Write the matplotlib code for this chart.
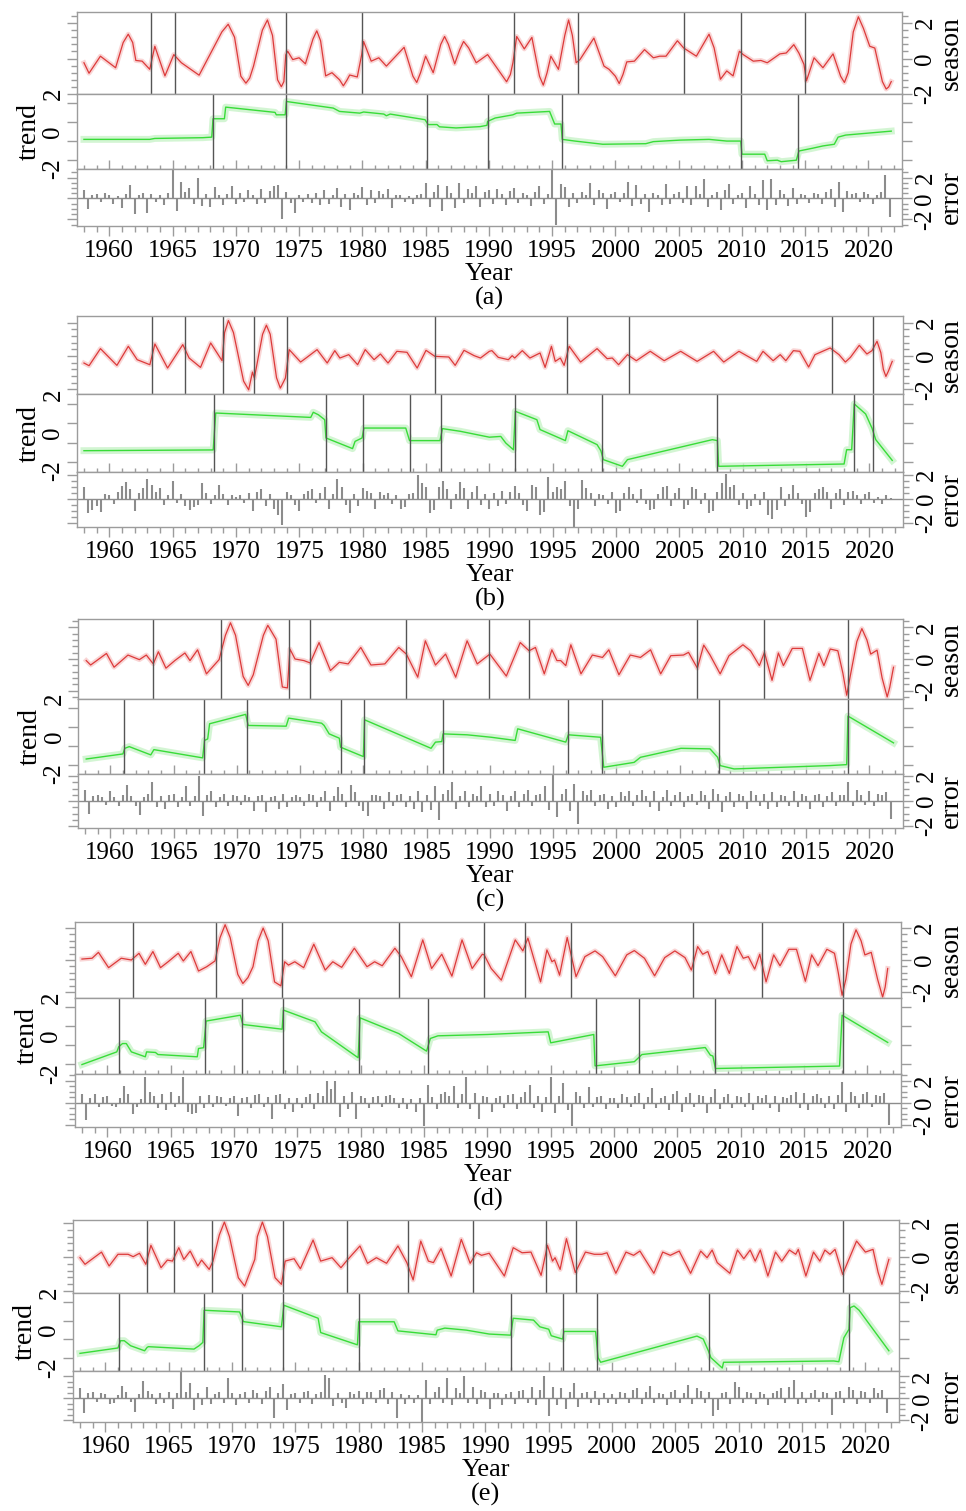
import numpy as np
import matplotlib
matplotlib.use("Agg")
import matplotlib.pyplot as plt
from matplotlib.ticker import FixedLocator, MultipleLocator

plt.rcParams['font.family'] = ['Liberation Serif', 'DejaVu Serif']

# ---------------- values ----------------
# season: (year, value) pairs, trend: years + values, error: one value every 4 months from 1958
# (a)
season_a = [(1958.0, -0.24), (1958.4, -0.83), (1959.3, 0.13), (1960.5, -0.52), (1961.1, 0.9), (1961.5, 1.37),
            (1961.85, 0.9), (1962.1, -0.11), (1962.6, -0.15), (1963.2, -0.61), (1963.6, 0.69), (1964.4, -0.98),
            (1965.1, 0.22), (1965.7, -0.24), (1967.1, -0.94), (1968.1, 0.41), (1968.9, 1.5), (1969.4, 1.93),
            (1969.9, 1.2), (1970.4, -1.0), (1970.8, -1.39), (1971.1, -1.1), (1971.4, -0.43), (1972.1, 1.6),
            (1972.5, 2.17), (1972.9, 1.3), (1973.3, -1.2), (1973.6, -1.59), (1973.8, -1.3), (1973.95, 0.2),
            (1974.1, 0.41), (1974.5, -0.06), (1975.0, 0.04), (1975.5, -0.30), (1976.1, 1.1), (1976.4, 1.56),
            (1976.7, 1.0), (1977.1, -0.98), (1977.6, -0.80), (1978.2, -1.2), (1978.5, -1.54), (1978.8, -1.2),
            (1979.0, -0.93), (1979.6, -1.04), (1979.95, 0.22), (1980.1, 0.96), (1980.7, -0.15), (1981.3, 0.04),
            (1981.9, -0.43), (1983.3, 0.63), (1984.0, -1.0), (1984.3, -1.35), (1984.6, -0.8), (1985.0, 0.13),
            (1985.6, -0.80), (1986.2, 0.8), (1986.5, 1.24), (1986.8, 0.8), (1987.3, -0.30), (1987.7, 0.5),
            (1988.0, 0.96), (1988.4, 0.6), (1989.0, -0.24), (1989.9, 0.22), (1991.1, -1.0), (1991.4, -1.31),
            (1991.7, -0.9), (1991.9, -0.24), (1992.2, 1.24), (1992.8, 0.54), (1993.4, 1.19), (1994.0, -1.0),
            (1994.3, -1.50), (1994.6, -0.8), (1994.9, 0.13), (1995.5, -0.61), (1996.0, 1.3), (1996.3, 2.17),
            (1996.6, 1.3), (1996.9, -0.24), (1997.2, -0.06), (1998.3, 1.15), (1999.1, -0.43), (1999.5, -0.61),
            (2000.0, -1.0), (2000.3, -1.41), (2000.6, -0.9), (2000.9, -0.19), (2001.5, -0.15), (2002.3, 0.50),
            (2003.0, 0.04), (2003.5, 0.13), (2004.0, 0.13), (2004.9, 1.00), (2005.4, 0.59), (2006.4, 0.13),
            (2007.1, 1.0), (2007.4, 1.37), (2007.8, 0.6), (2008.3, -1.17), (2008.8, -0.70), (2009.3, -0.98),
            (2009.8, 0.41), (2010.1, 0.22), (2010.9, -0.15), (2011.5, -0.11), (2012.0, -0.24), (2013.0, 0.26),
            (2013.5, 0.31), (2014.1, 0.78), (2014.5, 0.31), (2014.9, -0.33), (2015.1, -1.26), (2015.7, 0.04),
            (2016.4, -0.52), (2017.2, 0.26), (2017.8, -1.0), (2018.1, -1.35), (2018.4, -0.8), (2018.8, 1.5),
            (2019.2, 2.35), (2019.6, 1.7), (2020.1, 0.69), (2020.5, 0.59), (2021.1, -1.3), (2021.4, -1.72),
            (2021.6, -1.6), (2021.8, -1.30)]
season_a_bp = [1963.3, 1965.2, 1974.0, 1980.0, 1992.0, 1997.05, 2005.4, 2009.9, 2014.95]
trend_a_yr = [1958.0, 1963.2, 1963.6, 1967.4, 1968.1, 1968.2, 1969.1, 1969.2, 1973.1, 1973.2, 1973.9, 1974.0,
              1977.7, 1978.2, 1979.8, 1980.1, 1981.7, 1981.9, 1982.2, 1984.95, 1985.2, 1985.9, 1986.1, 1987.4,
              1989.3, 1989.85, 1989.9, 1990.5, 1991.9, 1992.2, 1994.8, 1995.2, 1995.7, 1995.8, 1996.8, 1999.0,
              2002.4, 2003.0, 2005.1, 2007.4, 2008.8, 2009.9, 2010.0, 2011.8, 2012.0, 2012.8, 2013.1, 2014.3,
              2014.5, 2015.6, 2016.4, 2017.3, 2017.6, 2018.2, 2021.8]
trend_a = [-0.42, -0.42, -0.37, -0.33, -0.30, 0.68, 0.68, 1.30, 1.02, 0.89, 0.89, 1.60,
           1.25, 1.07, 0.98, 1.04, 0.93, 0.84, 0.93, 0.63, 0.37, 0.37, 0.25, 0.19,
           0.26, 0.33, 0.54, 0.72, 0.89, 0.98, 1.07, 0.40, 0.40, -0.42, -0.51, -0.68,
           -0.65, -0.54, -0.46, -0.42, -0.51, -0.51, -1.21, -1.21, -1.56, -1.53, -1.61, -1.53,
           -1.04, -0.89, -0.77, -0.68, -0.30, -0.19, 0.02]
trend_a_bp = [1968.2, 1974.0, 1985.1, 1989.9, 1995.75, 2009.95, 2014.4]
error_a = [0.8, -1.0, 0.3, 0.4, -0.3, 0.5, 0.3, -0.5, 0.2, -0.9, 0.4, 1.3, -1.5, 0.3, 0.5,
           -1.4, 0.4, -0.3, 0.3, -0.6, 0.5, 2.8, -1.2, 1.6, 0.6, 1.0, -0.5, 2.0, -0.7, 0.4,
           -0.8, 1.1, 0.3, -0.6, 0.4, 1.2, -0.5, 0.5, -0.3, 0.8, 0.3, -0.5, 0.9, -0.4, 0.7,
           1.2, 1.3, -2.0, 0.6, -0.4, -1.4, 0.3, -0.3, 0.4, -0.4, 0.5, -0.6, 0.8, -0.5, 0.3,
           1.0, -0.8, 0.4, -1.1, 0.5, 0.3, 1.1, -0.6, 0.8, -0.4, 0.7, 0.4, 0.9, -0.9, 0.3,
           0.3, -0.3, 0.2, -0.5, 0.3, 0.4, 1.5, -0.8, 0.6, 1.3, -1.2, 1.2, 0.5, -0.9, 1.5,
           -0.4, 0.9, 0.5, 1.2, -0.8, 0.6, 0.8, -0.5, 0.9, 0.4, -0.6, 0.7, 1.0, -0.4, 0.5,
           0.3, -0.7, 0.6, 1.2, -0.5, 0.4, 2.7, -2.5, 1.4, 1.1, -0.8, 0.5, -0.4, 0.6, 0.3,
           1.5, -0.6, 0.8, 0.5, -1.0, 0.4, 0.6, -0.3, 0.5, 1.6, -0.7, 1.3, -0.5, 0.4, -1.3,
           0.5, 0.3, -0.6, 1.4, -0.5, 0.4, 0.6, -0.4, 1.2, -0.6, 1.2, 0.4, 1.9, -0.8, 0.3,
           0.6, -1.1, 0.8, 1.4, -0.5, 0.3, 0.5, -0.9, 1.2, 0.4, -0.6, 1.8, -1.1, 1.9, -0.6,
           0.8, 0.4, -0.7, 1.0, -0.5, 0.4, 0.3, -0.4, 0.5, 0.4, -0.5, 0.6, 0.9, -0.8, 1.6,
           -1.3, 0.7, 0.4, 0.5, -0.3, 0.6, 0.4, -0.5, 0.3, 0.6, 2.2, -1.8]

# (b)
season_b = [(1958.0, -0.42), (1958.4, -0.58), (1959.3, 0.44), (1960.6, -0.56), (1961.5, 0.58), (1962.2, -0.22),
            (1963.2, -0.52), (1963.6, 0.72), (1964.6, -0.72), (1965.8, 0.68), (1966.3, -0.12), (1967.2, -0.68),
            (1968.0, 0.78), (1968.9, -0.28), (1969.1, 1.4), (1969.4, 2.12), (1969.8, 1.4), (1970.6, -1.5),
            (1971.0, -2.02), (1971.3, -0.96), (1971.45, -1.32), (1972.1, 1.3), (1972.4, 1.84), (1972.7, 1.3),
            (1973.2, -1.3), (1973.5, -1.92), (1973.9, -1.32), (1974.2, 0.38), (1975.1, -0.36), (1975.6, -0.08),
            (1976.4, 0.38), (1977.2, -0.42), (1977.8, 0.32), (1978.2, -0.12), (1978.9, 0.08), (1979.6, -0.52),
            (1980.2, 0.38), (1980.9, -0.22), (1981.4, 0.12), (1982.0, -0.42), (1982.7, 0.28), (1983.5, 0.22),
            (1984.3, -0.72), (1985.0, 0.34), (1985.7, -0.02), (1986.8, -0.06), (1987.3, -0.56), (1988.0, 0.34),
            (1988.8, 0.02), (1989.3, -0.12), (1990.0, 0.28), (1990.2, 0.32), (1990.7, -0.08), (1991.5, -0.22),
            (1991.8, 0.02), (1992.0, -0.12), (1992.6, 0.32), (1993.2, -0.12), (1994.0, 0.18), (1994.4, -0.68),
            (1994.9, 0.58), (1995.2, -0.32), (1995.6, -0.12), (1995.9, -0.56), (1996.3, 0.58), (1997.2, -0.36),
            (1998.5, 0.44), (1999.3, -0.16), (1999.7, -0.12), (2000.2, -0.52), (2000.9, 0.08), (2001.6, -0.28),
            (2002.7, 0.28), (2003.8, -0.28), (2005.1, 0.28), (2006.4, -0.32), (2007.7, 0.28), (2008.5, -0.36),
            (2009.7, 0.28), (2011.1, -0.32), (2011.6, 0.28), (2012.4, -0.28), (2012.96, 0.08), (2013.4, -0.28),
            (2014.0, 0.32), (2014.5, 0.28), (2015.2, -0.66), (2015.7, 0.08), (2016.9, 0.48), (2017.6, 0.08),
            (2018.1, -0.36), (2018.5, -0.08), (2019.2, 0.64), (2019.8, 0.12), (2020.2, 0.32), (2020.6, 0.88),
            (2020.9, 0.2), (2021.1, -0.8), (2021.3, -1.22), (2021.5, -0.9), (2021.8, -0.32)]
season_b_bp = [1963.35, 1965.95, 1969.0, 1971.45, 1974.05, 1985.7, 1996.1, 2001.0, 2017.05, 2020.25]
trend_b_yr = [1958.0, 1968.2, 1968.4, 1975.9, 1976.1, 1976.5, 1977.0, 1977.1, 1979.2, 1979.4, 1979.95, 1980.1,
              1983.4, 1983.7, 1986.1, 1986.3, 1987.7, 1990.0, 1990.9, 1991.3, 1991.9, 1992.05, 1993.75, 1994.0,
              1996.0, 1996.2, 1998.5, 1998.8, 1999.0, 2000.5, 2000.9, 2007.6, 2008.0, 2008.1, 2018.0, 2018.2,
              2018.6, 2018.8, 2019.7, 2020.2, 2020.5, 2021.8]
trend_b = [-0.93, -0.89, 1.05, 0.82, 1.09, 0.96, 0.70, -0.26, -0.82, -0.44, -0.26, 0.26,
           0.26, -0.40, -0.40, 0.23, 0.09, -0.22, -0.18, -0.53, -0.88, 1.14, 0.70, 0.18,
           -0.40, 0.12, -0.61, -0.93, -1.40, -1.75, -1.40, -0.35, -0.40, -1.75, -1.63, -0.88,
           -0.88, 1.53, 1.00, 0.26, -0.35, -1.44]
trend_b_bp = [1968.3, 1977.1, 1980.0, 1983.7, 1986.2, 1992.0, 1998.9, 2008.0, 2018.75, 2020.25]
error_b = [1.0, -1.2, -0.9, -0.6, -1.1, 0.4, 0.3, -0.4, 0.6, 1.1, 1.4, 0.8, -1.0, 0.5, 0.9,
           1.7, 1.2, 0.6, 0.9, -0.5, 0.3, 1.5, -0.3, 0.4, -0.6, -0.9, -0.7, -0.5, 1.3, 0.5,
           -0.4, 0.3, 1.2, 0.4, -0.5, 0.3, 0.2, 0.3, -0.3, 0.5, -1.0, 0.6, 0.8, -0.6, 0.4,
           -0.8, -1.3, -2.2, 0.6, 0.3, -0.5, -1.0, 0.4, 0.7, 0.8, -0.3, 0.5, 1.0, -0.8, 0.4,
           1.7, 1.0, -0.5, -1.2, 0.4, -0.6, 0.9, 0.7, 0.5, -0.8, 0.6, 0.3, 0.5, -0.4, 0.3,
           -0.8, -0.7, 0.4, 0.5, 2.0, 1.3, 1.0, -1.2, -0.9, 1.0, 1.5, 0.8, -0.8, 0.4, 1.4,
           0.9, -0.8, 0.6, 1.1, -0.5, 0.4, -0.8, 0.5, -0.6, 0.7, -0.4, 0.6, 1.1, 0.5, -0.5,
           -1.0, 1.2, 1.0, -1.3, -1.1, 1.8, 0.6, 1.0, 0.8, 1.5, -0.6, -2.3, -0.8, 1.6, 0.9,
           0.5, -0.6, 0.4, 0.3, -0.4, 0.6, -1.2, -1.0, 0.5, 1.0, 0.4, -0.3, 0.8, -0.4, -0.9,
           -0.8, 0.4, 1.0, 1.1, -0.6, 0.5, 0.9, -0.8, -0.5, 1.0, 0.8, -0.4, 0.5, -1.2, -1.0,
           0.6, 1.3, 2.1, 1.0, 1.2, -0.5, 0.5, -0.8, -0.6, 0.4, -0.5, 0.6, -1.3, -1.7, -0.9,
           1.0, -0.6, 0.4, 1.2, 0.5, -0.4, -1.5, -1.1, 0.5, 0.8, 1.0, 0.6, -0.8, 0.5, 0.8,
           -0.5, 0.6, 0.7, 0.3, -0.4, 0.4, 0.6, -0.3, 0.2, -0.4, 0.3, 0.1]

# (c)
season_c = [(1958.1, -0.10), (1958.45, -0.38), (1959.7, 0.35), (1960.3, -0.52), (1961.4, 0.25), (1962.3, -0.04),
            (1962.85, 0.25), (1963.4, -0.31), (1963.8, 0.46), (1964.4, -0.58), (1965.1, -0.10), (1965.9, 0.38),
            (1966.3, -0.10), (1966.9, 0.58), (1967.6, -0.94), (1968.6, -0.04), (1969.1, 1.5), (1969.5, 2.29),
            (1969.9, 1.5), (1970.5, -1.1), (1970.9, -1.67), (1971.3, -1.0), (1972.1, 1.5), (1972.45, 2.13),
            (1973.1, 1.25), (1973.6, -1.77), (1974.0, -1.83), (1974.2, 0.63), (1974.6, 0.0), (1975.3, -0.10),
            (1975.8, -0.25), (1976.5, 1.04), (1977.4, -0.73), (1978.1, -0.21), (1978.8, -0.31), (1979.8, 0.73),
            (1980.6, -0.38), (1981.7, -0.31), (1982.8, 0.73), (1983.4, 0.31), (1984.3, -1.15), (1984.9, 1.15),
            (1985.7, -0.38), (1986.5, 0.31), (1987.3, -1.15), (1988.2, 1.15), (1989.0, -0.31), (1990.0, 0.31),
            (1991.3, -1.08), (1992.4, 1.04), (1993.1, 0.52), (1993.6, 0.73), (1994.3, -0.94), (1994.9, 0.58),
            (1995.3, -0.10), (1995.6, -0.10), (1996.0, -0.42), (1996.4, 0.90), (1997.2, -0.94), (1998.1, 0.25),
            (1998.9, 0.10), (1999.4, 0.58), (2000.2, -1.00), (2001.1, 0.25), (2001.9, 0.10), (2002.7, 0.58),
            (2003.5, -0.94), (2004.3, 0.21), (2005.3, 0.25), (2005.7, 0.42), (2006.4, -0.58), (2006.9, 0.88),
            (2007.4, 0.25), (2008.2, -0.94), (2008.9, 0.21), (2010.0, 0.90), (2010.6, 0.52), (2011.3, -0.42),
            (2011.7, 0.42), (2012.3, -1.35), (2012.8, 0.38), (2013.2, -0.42), (2013.9, 0.67), (2014.7, 0.67),
            (2015.3, -1.35), (2016.0, 0.35), (2016.4, -0.42), (2016.9, 0.63), (2017.5, 0.52), (2017.9, -0.9),
            (2018.2, -2.29), (2018.5, -1.0), (2019.0, 1.1), (2019.4, 1.92), (2019.8, 1.2), (2020.1, 0.31),
            (2020.6, 0.56), (2021.0, -1.2), (2021.4, -2.40), (2021.6, -1.8), (2021.9, -0.52)]
season_c_bp = [1963.4, 1968.75, 1974.1, 1975.8, 1983.4, 1989.95, 1993.1, 2006.4, 2011.7, 2018.3]
trend_c_yr = [1958.1, 1961.0, 1961.15, 1961.5, 1963.2, 1963.45, 1967.3, 1967.45, 1967.7, 1967.85, 1970.7, 1970.9,
              1973.9, 1974.1, 1976.7, 1976.9, 1977.3, 1978.1, 1978.2, 1980.0, 1980.1, 1985.35, 1985.7, 1986.2,
              1986.3, 1988.2, 1990.1, 1992.0, 1992.2, 1996.0, 1996.2, 1998.75, 1999.0, 2001.4, 2001.9, 2005.1,
              2007.4, 2008.0, 2008.2, 2009.3, 2016.9, 2018.2, 2018.3, 2021.9]
trend_c = [-1.20, -0.93, -0.63, -0.54, -0.98, -0.70, -1.14, -0.21, -0.13, 0.68, 1.18, 0.59,
           0.55, 0.98, 0.71, 0.59, 0.14, -0.09, -0.57, -1.07, 0.89, -0.63, -0.30, -0.27,
           0.14, 0.09, -0.04, -0.21, 0.41, -0.30, 0.09, -0.04, -1.64, -1.38, -1.11, -0.63,
           -0.66, -1.11, -1.55, -1.73, -1.55, -1.50, 1.09, -0.34]
trend_c_bp = [1961.05, 1967.4, 1970.8, 1978.2, 1980.05, 1986.3, 1996.15, 1998.9, 2008.1, 2018.3]
error_c = [0.9, -1.0, 0.4, 0.5, 0.3, -0.3, 0.8, 0.3, -0.4, 0.5, 1.3, 0.4, -0.4, -1.1, 0.3,
           0.6, 1.5, -0.5, 0.4, -0.6, 0.5, 0.6, -0.5, 0.3, 1.2, -0.4, 0.4, 2.0, -1.2, 0.5,
           0.8, -0.5, 0.3, 0.6, -0.4, 0.5, 0.4, -0.3, 0.5, 0.3, -0.8, 0.4, 0.5, -0.9, 0.3,
           0.4, -0.6, 0.6, -0.5, 0.3, 0.5, 0.3, -0.4, 0.6, 0.5, -0.5, 0.3, 0.8, -0.8, 0.4,
           1.1, 0.6, -0.5, 1.3, 0.7, -0.4, -0.8, -1.2, 0.5, 0.5, 0.4, -0.6, 0.7, -0.4, 0.5,
           0.6, -0.5, 0.4, -0.6, 0.8, -0.9, 0.5, -0.7, 1.2, -1.5, 0.6, 0.9, 1.5, -0.6, 0.4,
           0.8, -0.5, 0.6, 0.4, 1.2, -0.5, 0.6, -0.4, 0.8, 0.5, -0.8, 0.4, 0.8, -0.5, 0.6,
           0.9, -0.4, 0.5, 0.6, 1.2, -0.7, 2.1, -1.3, 0.6, 1.0, -0.8, 1.4, -1.8, 0.8, 0.5,
           0.9, -0.4, 0.5, 0.6, -0.6, 0.4, -0.5, 0.7, 0.4, 0.8, -0.4, 0.5, 0.9, 0.4, -0.5,
           0.8, -0.8, 0.3, 0.9, -0.4, 0.5, 0.7, -0.5, 0.4, 0.6, -0.3, 0.8, 0.5, -0.6, 1.0,
           0.6, -0.9, 0.4, 0.7, -0.5, 0.6, 0.4, -0.6, 0.8, 0.5, -0.4, 0.6, -0.6, 0.7, -0.5,
           0.5, 0.4, -0.4, 0.8, -0.5, 0.6, 0.4, -0.6, 0.5, 0.6, -0.5, 0.4, 0.7, -0.4, 0.5,
           0.5, 1.5, -0.4, 0.9, 0.5, -0.3, 0.8, -0.4, 0.6, 0.5, 0.7, -1.4]

# (d)
season_d = [(1958.0, 0.06), (1958.8, 0.11), (1959.3, 0.48), (1960.1, -0.48), (1961.1, 0.11), (1961.9, 0.0),
            (1962.5, 0.42), (1963.0, -0.27), (1963.6, 0.53), (1964.2, -0.48), (1964.8, -0.11), (1965.6, 0.42),
            (1966.0, -0.06), (1966.6, 0.53), (1967.2, -0.69), (1967.85, -0.42), (1968.5, -0.06), (1968.9, 1.4),
            (1969.3, 2.21), (1969.7, 1.4), (1970.3, -0.9), (1970.7, -1.47), (1971.1, -1.1), (1971.5, -0.42),
            (1971.9, 1.2), (1972.3, 2.00), (1972.7, 1.2), (1973.2, -1.37), (1973.7, -1.62), (1974.0, -0.11),
            (1974.3, -0.32), (1974.8, -0.11), (1975.5, -0.48), (1976.3, 0.99), (1977.2, -0.63), (1977.8, -0.11),
            (1978.5, -0.46), (1979.5, 0.74), (1980.5, -0.42), (1981.1, -0.11), (1981.7, -0.36), (1982.7, 0.74),
            (1983.2, 0.21), (1984.0, -1.05), (1984.9, 1.26), (1985.6, -0.53), (1986.4, 0.36), (1987.2, -1.01),
            (1988.0, 1.26), (1988.8, -0.53), (1989.6, 0.36), (1989.75, 0.32), (1990.3, -0.53), (1991.1, -1.26),
            (1992.2, 1.26), (1992.8, 0.57), (1993.2, 1.37), (1994.2, -1.37), (1994.7, 0.63), (1995.1, -0.11),
            (1995.3, 0.0), (1995.7, -0.95), (1996.3, 1.41), (1997.0, -1.05), (1997.7, 0.21), (1998.5, 0.57),
            (1999.1, 0.21), (2000.1, -0.99), (2001.0, 0.32), (2001.6, 0.59), (2002.4, 0.11), (2003.2, -0.99),
            (2004.0, 0.15), (2004.8, 0.57), (2005.6, 0.15), (2006.1, -0.63), (2006.6, 0.84), (2007.0, 0.36),
            (2007.4, 0.53), (2008.0, -0.84), (2008.5, 0.32), (2009.1, -0.84), (2009.7, 0.84), (2010.2, 0.11),
            (2010.6, 0.21), (2011.1, -0.57), (2011.5, 0.36), (2012.0, -1.37), (2012.6, 0.32), (2013.1, -0.36),
            (2013.8, 0.67), (2014.4, 0.67), (2015.1, -1.33), (2015.6, 0.32), (2016.1, -0.36), (2016.8, 0.67),
            (2017.4, 0.42), (2017.7, -0.8), (2018.0, -2.21), (2018.3, -1.2), (2018.7, 1.0), (2019.1, 1.89),
            (2019.5, 1.2), (2019.8, 0.32), (2020.3, 0.48), (2020.8, -1.2), (2021.2, -2.32), (2021.4, -1.7),
            (2021.6, -0.53)]
season_d_bp = [1962.05, 1968.55, 1973.8, 1983.05, 1989.72, 1993.0, 1996.6, 2006.2, 2011.7, 2018.1]
trend_d_yr = [1958.0, 1960.75, 1960.9, 1961.2, 1961.5, 1961.9, 1963.0, 1963.1, 1963.8, 1964.0, 1967.1, 1967.2,
              1967.6, 1967.8, 1970.5, 1970.7, 1973.8, 1973.9, 1976.4, 1976.9, 1979.8, 1979.95, 1983.0, 1985.2,
              1985.5, 1986.1, 1990.0, 1994.8, 1995.0, 1998.4, 1998.5, 2001.6, 2002.2, 2007.2, 2007.6, 2007.8,
              2008.0, 2017.8, 2018.0, 2021.6]
trend_d = [-1.52, -0.85, -0.58, -0.41, -0.41, -0.85, -1.11, -0.85, -0.88, -0.99, -1.11, -0.67,
           -0.63, 0.78, 1.09, 0.60, 0.35, 1.36, 0.74, 0.21, -1.16, 0.95, 0.12, -0.81,
           -0.14, 0.0, 0.07, 0.21, -0.37, 0.07, -1.59, -1.37, -0.99, -0.62, -1.02, -1.07,
           -1.73, -1.60, 1.09, -0.35]
trend_d_bp = [1960.9, 1967.75, 1970.6, 1973.85, 1979.85, 1985.35, 1998.6, 2002.0, 2007.95, 2018.05]
error_d = [0.8, -1.6, 0.4, 0.8, -0.4, 0.5, 0.6, -0.3, -0.4, 0.4, 1.5, 0.8, -1.0, -0.4, 0.3,
           2.3, 1.0, 0.6, -0.5, 0.8, -0.7, 1.0, -0.4, 0.6, 2.3, -0.8, -1.0, -0.9, 0.6, -0.5,
           0.7, -0.4, 0.6, 0.5, -0.3, 0.4, 0.6, -1.2, 0.4, 0.5, -0.5, 0.7, 0.8, -0.4, 0.5,
           -1.5, 0.7, 0.8, -0.6, 0.4, -0.8, 0.4, -0.5, 0.5, 0.8, -0.6, 0.9, 0.6, 2.0, 1.2,
           2.0, -1.3, 0.6, -0.6, 1.0, -1.5, 0.6, 0.4, -0.5, 0.5, 0.6, -0.4, 0.6, 0.7, 0.4,
           -0.5, 0.4, -0.6, 0.3, -0.8, 0.4, -2.1, 1.6, 0.5, -0.6, 0.8, 1.0, 0.6, 1.5, -0.5,
           0.8, 2.3, -0.6, 0.9, -1.5, 0.6, 0.5, -0.8, 0.4, 0.6, -0.5, 0.7, 0.8, -0.6, 0.5,
           1.0, 1.6, -0.5, 0.6, -0.8, 0.5, 2.3, -0.9, 0.6, 1.8, -0.7, -2.1, 1.0, 0.6, -0.5,
           1.4, -0.4, 0.5, 0.6, -0.6, 0.4, 0.4, -0.5, 0.8, 0.5, -0.4, 0.6, 0.9, -0.6, 0.5,
           1.3, -0.5, 0.4, 0.6, -0.7, 0.8, 1.1, -0.8, 0.5, 0.9, -0.4, 0.7, 0.6, -0.9, 0.5,
           1.2, -0.6, 0.5, 0.8, -0.5, 0.6, 0.5, -0.4, 0.9, -0.7, 0.6, 0.4, 0.7, -0.5, 0.6,
           -0.8, 0.5, 0.4, 0.7, 1.0, -0.5, 0.9, -0.7, 0.6, 0.8, 0.4, -0.5, 0.6, -0.6, 0.7,
           1.9, -0.8, 1.0, 0.6, -0.5, 0.8, 1.0, -0.4, 0.7, 0.6, 0.9, -2.0]

# (e)
season_e = [(1958.0, -0.04), (1958.4, -0.43), (1959.1, -0.04), (1959.7, 0.29), (1960.3, -0.53), (1961.0, 0.16),
            (1961.8, 0.16), (1962.2, 0.02), (1962.7, 0.22), (1963.2, -0.43), (1963.6, 0.69), (1964.4, -0.63),
            (1964.9, -0.18), (1965.3, -0.24), (1965.8, 0.55), (1966.2, -0.14), (1966.7, 0.35), (1967.3, -0.53),
            (1967.6, -0.18), (1968.2, -0.73), (1968.5, -0.24), (1969.0, 1.3), (1969.4, 2.06), (1969.8, 1.2),
            (1970.5, -1.22), (1971.0, -1.71), (1971.8, -0.14), (1972.0, 1.2), (1972.4, 2.06), (1972.8, 1.2),
            (1973.4, -1.22), (1973.9, -1.61), (1974.2, -0.24), (1974.9, -0.10), (1975.4, -0.69), (1976.4, 1.00),
            (1977.0, -0.24), (1977.9, -0.04), (1978.6, -0.63), (1979.1, -0.18), (1980.1, 0.65), (1980.7, -0.37),
            (1981.4, -0.04), (1982.2, -0.37), (1983.1, 0.65), (1983.8, -0.33), (1984.3, -1.35), (1984.9, 0.94),
            (1985.5, -0.24), (1985.9, -0.33), (1986.5, 0.49), (1987.3, -1.12), (1988.1, 1.04), (1988.8, -0.37),
            (1989.3, 0.25), (1989.7, 0.10), (1990.3, 0.22), (1991.5, -1.12), (1992.2, 0.55), (1992.9, 0.25),
            (1993.6, 0.29), (1994.4, -1.08), (1994.9, 0.69), (1995.3, -0.24), (1995.5, -0.04), (1995.9, -0.73),
            (1996.4, 1.08), (1997.1, -0.92), (1997.9, 0.29), (1998.6, 0.16), (1999.2, 0.16), (1999.6, 0.25),
            (2000.3, -0.96), (2001.1, 0.29), (2001.7, 0.10), (2002.2, 0.35), (2003.3, -0.96), (2004.0, 0.29),
            (2004.6, 0.10), (2005.3, 0.35), (2006.2, -0.96), (2007.0, 0.35), (2007.5, -0.04), (2007.9, 0.41),
            (2008.3, -0.33), (2009.3, -0.96), (2009.9, 0.41), (2010.4, -0.10), (2010.9, 0.41), (2011.3, -0.24),
            (2011.7, 0.41), (2012.3, -1.12), (2012.9, 0.29), (2013.4, -0.24), (2014.0, 0.41), (2014.5, 0.16),
            (2014.7, 0.45), (2015.3, -1.12), (2015.9, 0.29), (2016.4, -0.24), (2016.8, 0.41), (2017.2, 0.16),
            (2017.6, 0.45), (2018.2, -1.02), (2019.3, 0.94), (2020.0, 0.29), (2020.6, 0.45), (2021.0, -0.9),
            (2021.3, -1.61), (2021.85, -0.14)]
season_e_bp = [1963.3, 1965.4, 1968.45, 1974.05, 1979.05, 1983.9, 1989.05, 1994.8, 1997.15, 2018.25]
trend_e_yr = [1958.0, 1961.0, 1961.2, 1961.5, 1962.0, 1963.1, 1963.3, 1963.4, 1967.0, 1967.4, 1967.7, 1967.8,
              1970.6, 1970.9, 1973.9, 1974.1, 1976.8, 1977.0, 1979.9, 1980.0, 1982.8, 1983.1, 1986.1, 1986.2,
              1986.8, 1988.5, 1990.3, 1992.0, 1992.2, 1993.8, 1994.3, 1995.0, 1995.2, 1996.1, 1996.2, 1998.7,
              1998.9, 1999.1, 2006.7, 2007.2, 2007.6, 2007.8, 2008.7, 2008.8, 2017.5, 2017.9, 2018.3, 2018.7,
              2018.8, 2019.1, 2019.5, 2021.85]
trend_e = [-1.25, -0.96, -0.57, -0.57, -0.84, -1.11, -0.93, -0.89, -1.02, -0.84, -0.66, 1.07,
           0.98, 0.46, 0.18, 1.34, 0.64, -0.13, -0.79, 0.45, 0.45, -0.04, -0.25, 0.0,
           0.11, 0.0, -0.21, -0.27, 0.64, 0.54, 0.18, 0.05, -0.30, -0.48, -0.07, -0.07,
           -1.48, -1.73, -0.32, -0.48, -1.11, -1.48, -2.04, -1.73, -1.66, -1.70, -0.41, 0.05,
           1.21, 1.30, 1.07, -1.11]
trend_e_bp = [1961.05, 1967.8, 1970.8, 1974.05, 1980.0, 1992.05, 1996.15, 1998.85, 2007.65, 2018.7]
error_e = [0.9, -1.3, 0.5, 0.6, -0.3, 0.5, 0.4, -0.5, -0.4, 0.3, 1.1, 0.6, -0.3, -1.2, 0.4,
           1.6, 0.7, 0.4, -0.5, 0.5, -0.4, 0.6, -1.0, 0.5, 2.4, 0.6, 1.4, -1.1, 0.5, -0.6,
           1.0, -0.5, 0.4, 0.6, -0.4, 1.8, 0.5, -0.6, 0.4, 0.6, -0.4, 0.8, 0.5, -0.5, 0.7,
           1.0, -1.8, 0.5, 1.3, -1.1, 0.4, 0.5, -0.4, 0.6, 0.7, -0.5, 0.4, 0.6, 2.1, 1.8,
           -0.7, 0.5, -0.4, -0.9, 0.6, 0.4, 0.7, -0.5, 0.6, 0.6, -0.4, 0.8, 0.9, -0.5, 0.6,
           -1.8, 0.4, -0.5, 0.3, -0.4, 0.3, -2.2, 1.7, -0.5, 0.6, 1.0, -0.4, 1.8, -0.6, 0.9,
           0.5, 2.0, -0.4, 1.0, -0.5, 0.8, 0.6, -1.0, 0.5, 0.5, -0.6, 0.4, 0.6, -0.5, 0.7,
           0.8, -0.4, 1.0, -0.6, 0.8, 2.0, -1.6, 1.0, -0.6, 0.9, -1.0, 0.6, 1.4, -0.8, 0.5,
           0.6, -0.4, 0.7, -0.6, 0.5, -0.4, 0.4, -0.5, 0.6, 0.5, -0.4, 0.8, 0.9, -0.5, 0.6,
           1.1, -0.4, 0.5, 0.4, -0.6, 0.6, 0.8, -0.4, 0.5, 1.2, -0.5, 0.9, 0.7, -0.4, 0.6,
           -1.6, -1.1, 0.5, 0.6, -0.5, 1.5, 1.0, -0.4, 0.6, 0.5, -0.5, 0.6, 0.4, -0.6, 0.5,
           0.7, 0.9, -0.4, 1.0, 1.7, -0.5, 0.6, -0.4, 0.5, 0.8, -0.3, 0.6, 0.5, -1.5, 0.6,
           0.7, -0.4, 1.0, 0.8, -0.5, 0.7, 0.6, -0.4, 0.9, 0.5, 0.8, -1.3]

# ---------------- layout (pixels of the 966x1511 picture) ----------------
FIG_W, FIG_H = 966, 1511
XLIM = (1957.45, 2022.65)
RED = '#dc3a3a'
PINK = '#f7c4c4'
GREEN = '#38dc38'
LGREEN = '#c9f3c9'
GREY = '#8c8c8c'
FRAME = '#9c9c9c'
BPC = '#555555'

panels = [
    dict(tag='(a)', left=77, right=902, rows=(12, 94, 169, 226),
         s_lim=(-2.0, 2.62), t_lim=(-2.0, 2.0), e_lim=(-2.62, 2.81),
         season=(season_a, season_a_bp), trend=(trend_a_yr, trend_a, trend_a_bp), error=error_a),
    dict(tag='(b)', left=77, right=903, rows=(316, 394, 472, 527),
         s_lim=(-2.27, 2.39), t_lim=(-2.05, 2.05), e_lim=(-2.33, 2.25),
         season=(season_b, season_b_bp), trend=(trend_b_yr, trend_b, trend_b_bp), error=error_b),
    dict(tag='(c)', left=78, right=903, rows=(619, 699, 774, 828),
         s_lim=(-2.53, 2.53), t_lim=(-2.0, 2.0), e_lim=(-2.16, 2.16),
         season=(season_c, season_c_bp), trend=(trend_c_yr, trend_c, trend_c_bp), error=error_c),
    dict(tag='(d)', left=75, right=901, rows=(922, 998, 1074, 1127),
         s_lim=(-2.38, 2.38), t_lim=(-2.02, 2.0), e_lim=(-2.2, 2.6),
         season=(season_d, season_d_bp), trend=(trend_d_yr, trend_d, trend_d_bp), error=error_d),
    dict(tag='(e)', left=73, right=899, rows=(1220, 1293, 1371, 1422),
         s_lim=(-2.12, 2.18), t_lim=(-2.2, 2.0), e_lim=(-2.15, 2.48),
         season=(season_e, season_e_bp), trend=(trend_e_yr, trend_e, trend_e_bp), error=error_e),
]


def add_ax(fig, left, right, top, bottom):
    return fig.add_axes([left / FIG_W, 1 - bottom / FIG_H,
                         (right - left) / FIG_W, (bottom - top) / FIG_H])


def frame(ax):
    for s in ax.spines.values():
        s.set_color(FRAME)
        s.set_linewidth(1.0)
    ax.set_xlim(*XLIM)
    ax.tick_params(which='both', color=FRAME, width=1.0, labelsize=18)


def y_axis(ax, minor, side, major_len, minor_len, pad):
    ax.yaxis.set_major_locator(FixedLocator([-2, 0, 2]))
    ax.set_yticklabels(['-2', '0', '2'])
    ax.yaxis.set_minor_locator(minor)
    ax.tick_params(axis='y', which='both', direction='out', left=True, right=True,
                   labelleft=(side == 'left'), labelright=(side == 'right'))
    ax.tick_params(axis='y', which='major', length=major_len, pad=pad, labelrotation=90)
    ax.tick_params(axis='y', which='minor', length=minor_len)
    for t in ax.get_yticklabels():
        t.set_va('center')


def ftext(fig, x, y, s, **kw):
    fig.text(x / FIG_W, 1 - y / FIG_H, s, **kw)


fig = plt.figure(figsize=(FIG_W / 100, FIG_H / 100), dpi=100)

for p in panels:
    l, r = p['left'], p['right']
    y0, y1, y2, y3 = p['rows']

    # season component
    ax = add_ax(fig, l, r, y0, y1)
    frame(ax)
    pts, sbp = p['season']
    sx = [q[0] for q in pts]
    sy = [q[1] for q in pts]
    ax.plot(sx, sy, color=PINK, lw=3.5, alpha=0.7, solid_joinstyle='round')
    ax.plot(sx, sy, color=RED, lw=0.9, solid_joinstyle='round')
    for b in sbp:
        ax.axvline(b, color=BPC, lw=1.0)
    ax.set_ylim(*p['s_lim'])
    ax.set_xticks([])
    y_axis(ax, MultipleLocator(0.4), 'right', 7, 4, 2)

    # trend component
    ax = add_ax(fig, l, r, y1, y2)
    frame(ax)
    tx, ty, tbp = p['trend']
    ax.plot(tx, ty, color=LGREEN, lw=5, alpha=0.8, solid_joinstyle='round')
    ax.plot(tx, ty, color=GREEN, lw=1.0)
    for b in tbp:
        ax.axvline(b, color=BPC, lw=1.0)
    ax.set_ylim(*p['t_lim'])
    ax.xaxis.set_major_locator(MultipleLocator(5))
    ax.xaxis.set_minor_locator(MultipleLocator(1))
    ax.tick_params(axis='x', which='both', direction='in', labelbottom=False)
    ax.tick_params(axis='x', which='major', length=6.5)
    ax.tick_params(axis='x', which='minor', length=3)
    y_axis(ax, FixedLocator([-1.5, -0.5, 0.5, 1.5]), 'left', 0, 7, 9)

    # error component
    ax = add_ax(fig, l, r, y2, y3)
    frame(ax)
    ev = p['error']
    ex = 1958 + np.arange(len(ev)) / 3
    ax.axhline(0, color=GREY, lw=1.0)
    ax.vlines(ex, 0, ev, colors=GREY, lw=1.5)
    ax.set_ylim(*p['e_lim'])
    ax.xaxis.set_major_locator(FixedLocator(list(range(1960, 2021, 5))))
    ax.set_xticklabels([str(y) for y in range(1960, 2021, 5)])
    ax.xaxis.set_minor_locator(MultipleLocator(1))
    ax.tick_params(axis='x', which='both', direction='out')
    ax.tick_params(axis='x', which='major', length=7, pad=3)
    ax.tick_params(axis='x', which='minor', length=4)
    y_axis(ax, MultipleLocator(0.5), 'right', 7, 4, 2)

    # component names and captions
    ftext(fig, l - 48, (y1 + y2) / 2, 'trend', rotation=90, ha='center', va='center', fontsize=20)
    ftext(fig, 951, (y0 + y1) / 2, 'season', rotation=90, ha='center', va='center', fontsize=20)
    ftext(fig, 951, (y2 + y3) / 2, 'error', rotation=90, ha='center', va='center', fontsize=20)
    ftext(fig, (l + r) / 2, y3 + 48, 'Year', ha='center', va='center', fontsize=19)
    ftext(fig, (l + r) / 2, y3 + 72, p['tag'], ha='center', va='center', fontsize=19)

fig.savefig('out.png', dpi=100)
